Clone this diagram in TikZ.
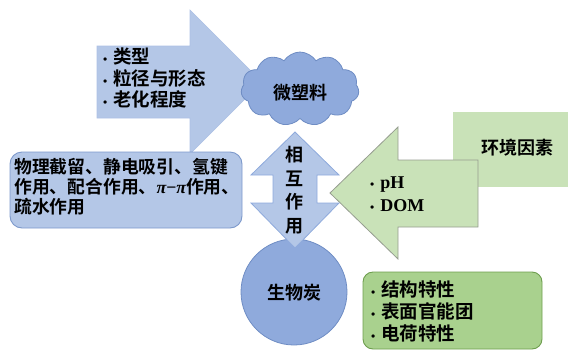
\documentclass[tikz,border=0pt]{standalone}
\usepackage{fontspec}
\newfontfamily\cjk{Noto Sans CJK SC}[BoldFont={Noto Sans CJK SC Bold}]
\newfontfamily\lat{Liberation Serif}
\usetikzlibrary{shapes.symbols}
\definecolor{lblue}{HTML}{B4C7E7}
\definecolor{mblue}{HTML}{8FAADC}
\definecolor{bblue}{HTML}{6F8DC4}
\definecolor{lgreen}{HTML}{C9E2B8}
\definecolor{mgreen}{HTML}{A9D18E}
\definecolor{bgreen}{HTML}{6E9E4E}
\tikzset{
  txt/.style={font=\cjk\bfseries\fontsize{18.5}{21.5}\selectfont, inner sep=0pt, align=left},
  ctxt/.style={font=\cjk\bfseries\fontsize{18}{21}\selectfont, inner sep=0pt, align=center},
}
\newcommand{\bul}{{\lat\fontsize{12}{12}\selectfont\textbullet}\hspace{6pt}}
\begin{document}
\begin{tikzpicture}[x=1pt,y=-1pt]
\useasboundingbox (0,0) rectangle (572,351);
% big blue arrow
\draw[fill=lblue, draw=lblue!80!mblue, line width=0.6pt]
  (97,46) -- (190,46) -- (190,10) -- (262,82) -- (190,154) -- (190,118) -- (97,118) -- cycle;
\node[txt, anchor=north west] (factors) at (103,48) {\bul 类型\\ \bul 粒径与形态\\ \bul 老化程度};
% environment box
\node[fill=lgreen, minimum width=115pt, minimum height=75pt, inner sep=0pt] (envbox) at (510.5,149.5) {};
\node[ctxt] (env) at (517,148) {环境因素};
% green arrow
\draw[fill=lgreen, draw=gray!70!lgreen, line width=0.8pt]
  (330,193) -- (398,127) -- (398,160) -- (478,160) -- (478,227) -- (398,227) -- (398,259) -- cycle;
\node[txt, anchor=west, font=\lat\bfseries\fontsize{18}{23.5}\selectfont] (envlist) at (370,194) {\bul pH\\ \bul DOM};
% cloud
\node[cloud, cloud puffs=11, cloud puff arc=115, aspect=1.6, fill=mblue, draw=bblue, line width=0.8pt,
      minimum width=118pt, minimum height=74pt, inner sep=0pt] (cloud) at (300,89) {};
\node[ctxt] (mp) at (300,93) {微塑料};
% left rounded rect
\draw[fill=lblue, draw=bblue!80!lblue, line width=0.9pt, rounded corners=12pt] (10,152) rectangle (242,228);
\node[txt, anchor=north west, font=\cjk\bfseries\fontsize{17.8}{20}\selectfont] (mech) at (14,158)
  {物理截留、静电吸引、氢键\\ 作用、配合作用、{\lat\bfseries\itshape π}{\lat\bfseries −}{\lat\bfseries\itshape π}作用、\\ 疏水作用};
% biochar circle
\node[circle, fill=mblue, draw=bblue, line width=0.8pt, minimum size=106pt, inner sep=0pt] (bc) at (294,292) {};
\node[ctxt] (bctxt) at (294,293) {生物炭};
% double arrow
\draw[fill=lblue, draw=mblue, line width=0.8pt]
  (295,132) -- (339,175) -- (317,175) -- (317,203) -- (339,203) -- (295,248)
  -- (251,203) -- (273,203) -- (273,175) -- (251,175) -- cycle;
\node[ctxt, font=\cjk\bfseries\fontsize{18}{23.5}\selectfont] (inter) at (294,190) {相\\互\\作\\用};
% bottom right box
\draw[fill=mgreen, draw=bgreen, line width=0.9pt, rounded corners=10pt] (363,272) rectangle (542,349);
\node[txt, anchor=west, font=\cjk\bfseries\fontsize{18.5}{22}\selectfont] (props) at (371,311) {\bul 结构特性\\ \bul 表面官能团\\ \bul 电荷特性};
\end{tikzpicture}
\end{document}
